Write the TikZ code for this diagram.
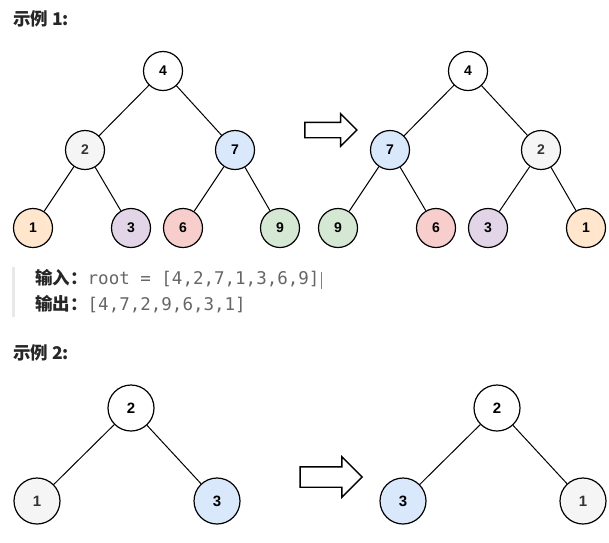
\documentclass[tikz,border=0pt]{standalone}
\usepackage{fontspec}
\setmainfont{Liberation Sans}
\setmonofont{DejaVu Sans Mono}
\newfontfamily\cjk{Noto Sans CJK SC}
\usetikzlibrary{shapes.arrows}
\definecolor{ndgray}{HTML}{F5F5F5}
\definecolor{ndblue}{HTML}{DAE8FC}
\definecolor{ndorange}{HTML}{FFE6CC}
\definecolor{ndpurple}{HTML}{E1D5E7}
\definecolor{ndred}{HTML}{F8CECC}
\definecolor{ndgreen}{HTML}{D5E8D4}
\definecolor{codegray}{HTML}{666666}
\definecolor{barline}{HTML}{E8E8E8}

\begin{document}
\begin{tikzpicture}[x=1pt, y=-1pt,
    tnode/.style={circle, draw=black, line width=1.2pt, fill=#1, minimum size=39pt, inner sep=0pt,
                  font=\bfseries\fontsize{14}{14}\selectfont},
    tnode/.default=white,
    bnode/.style={tnode=#1, minimum size=46pt, font=\bfseries\fontsize{15}{15}\selectfont},
    bnode/.default=white,
    edge/.style={line width=1pt},
    bigarrow/.style={single arrow, draw=black, line width=1.4pt, fill=white, inner xsep=0pt,
                     single arrow head extend=8.5pt, minimum height=52pt, minimum width=31pt, inner ysep=7pt},
    title/.style={anchor=west, inner sep=0pt, text=black!85, font=\cjk\bfseries\fontsize{17.5}{17.5}\selectfont},
    codeline/.style={anchor=west, inner sep=0pt, font=\fontsize{17.5}{17.5}\selectfont},
]
\useasboundingbox (0,0) rectangle (609,542);

% --- EXAMPLE 1 ---
\node[title] (t1) at (13,19) {示例 1:};

% left tree
\node[tnode]          (a4) at (163, 71) {4};
\node[tnode=ndgray, text=black!80] (a2) at ( 85,150) {2};
\node[tnode=ndblue]   (a7) at (235,150) {7};
\node[tnode=ndorange] (a1) at ( 33,228) {1};
\node[tnode=ndpurple] (a3) at (131,228) {3};
\node[tnode=ndred]    (a6) at (183,228) {6};
\node[tnode=ndgreen]  (a9) at (280,228) {9};

% right tree (mirrored)
\node[tnode]          (b4) at (468, 71) {4};
\node[tnode=ndblue]   (b7) at (390,150) {7};
\node[tnode=ndgray, text=black!80] (b2) at (541,150) {2};
\node[tnode=ndgreen]  (b9) at (338,228) {9};
\node[tnode=ndred]    (b6) at (436,228) {6};
\node[tnode=ndpurple] (b3) at (488,228) {3};
\node[tnode=ndorange] (b1) at (586,228) {1};

\draw[edge] (a4) -- (a2);  \draw[edge] (a4) -- (a7);
\draw[edge] (a2) -- (a1);  \draw[edge] (a2) -- (a3);
\draw[edge] (a7) -- (a6);  \draw[edge] (a7) -- (a9);
\draw[edge] (b4) -- (b7);  \draw[edge] (b4) -- (b2);
\draw[edge] (b7) -- (b9);  \draw[edge] (b7) -- (b6);
\draw[edge] (b2) -- (b3);  \draw[edge] (b2) -- (b1);

\node[bigarrow] (arr1) at (327,130) {};

% --- input / output block ---
\fill[barline] (12,267) rectangle (15,317);
\node[codeline] (in1) at (35,279)
  {{\cjk\bfseries\color{black!85}输入：}\texttt{\color{codegray}root = [4,2,7,1,3,6,9]}\hspace{2pt}{\color{black!50}\rule[-4pt]{0.7pt}{17pt}}};
\node[codeline] (out1) at (35,304)
  {{\cjk\bfseries\color{black!85}输出：}\texttt{\color{codegray}[4,7,2,9,6,3,1]}};

% --- EXAMPLE 2 ---
\node[title] (t2) at (13,353) {示例 2:};

\node[bnode]                       (c2) at (131,408) {2};
\node[bnode=ndgray, text=black!80] (c1) at ( 37,501) {1};
\node[bnode=ndblue]                (c3) at (217,501) {3};

\node[bnode]                       (d2) at (497,408) {2};
\node[bnode=ndblue]                (d3) at (403,501) {3};
\node[bnode=ndgray, text=black!80] (d1) at (583,501) {1};

\draw[edge] (c2) -- (c1);  \draw[edge] (c2) -- (c3);
\draw[edge] (d2) -- (d3);  \draw[edge] (d2) -- (d1);

\node[bigarrow, minimum height=62pt, minimum width=39pt, inner ysep=9.5pt,
      single arrow head extend=10pt] (arr2) at (326,477) {};
\end{tikzpicture}
\end{document}
